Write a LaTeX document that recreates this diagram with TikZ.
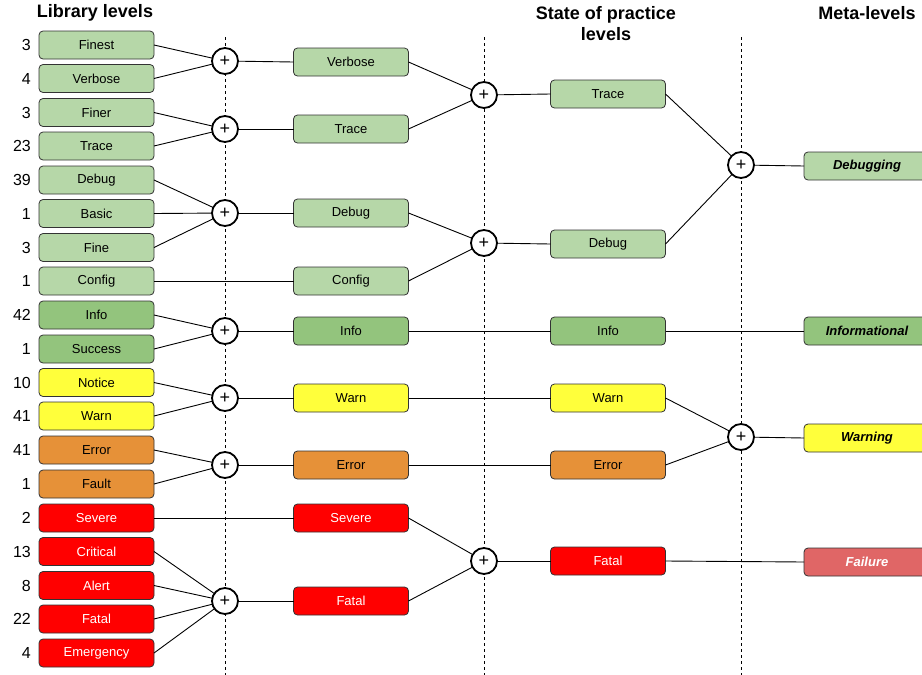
\documentclass[tikz,border=0pt]{standalone}
\usepackage{fontspec}
\setmainfont{Liberation Sans}
\usepackage{tikz,tkz-graph}
\definecolor{traceGreen}{HTML}{B6D7A8}
\definecolor{infoGreen}{HTML}{93C47D}
\definecolor{warnYellow}{HTML}{FFFF3B}
\definecolor{errorOrange}{HTML}{E69138}
\definecolor{fatalRed}{HTML}{FF0000}
\definecolor{failRed}{HTML}{E06666}
\tikzstyle{levelBox}=[shape = rectangle, rounded corners = 4pt, minimum width = 115pt, minimum height = 28pt, inner sep = 0pt, draw = black!80, line width = 0.8pt, font = \fontsize{13}{15}\selectfont]
\tikzstyle{plusNode}=[shape = circle, minimum size = 26pt, inner sep = 0pt, draw, fill = white, line width = 1.8pt, font = \fontsize{18}{20}\selectfont]

\begin{document}
\begin{tikzpicture}[x = 1pt, y = -1pt]
\tikzstyle{VertexStyle} = []
\tikzstyle{EdgeStyle} = [line width = 0.9pt]
\tikzstyle{LabelStyle} = []
\tikzstyle{traceLevel}=[levelBox, fill = traceGreen]
\tikzstyle{infoLevel}=[levelBox, fill = infoGreen]
\tikzstyle{warnLevel}=[levelBox, fill = warnYellow]
\tikzstyle{errorLevel}=[levelBox, fill = errorOrange]
\tikzstyle{fatalLevel}=[levelBox, fill = fatalRed, text = white]
\tikzstyle{metaLevel}=[minimum width = 126pt, font = \fontsize{13}{15}\selectfont\bfseries\itshape]
\tikzstyle{countLabel}=[anchor = east, inner sep = 0pt, font = \fontsize{16}{18}\selectfont]
\tikzstyle{headLabel}=[align = center, inner sep = 0pt, font = \fontsize{18}{21}\selectfont\bfseries]
\useasboundingbox (0,0) rectangle (922,675);
% column dividers
\coordinate (t1) at (225,37); \coordinate (u1) at (225,675);
\coordinate (t2) at (484,37); \coordinate (u2) at (484,675);
\coordinate (t3) at (741,37); \coordinate (u3) at (741,675);
\draw[dashed, dash pattern = on 3pt off 3pt, line width = 0.8pt] (t1) -- (u1) (t2) -- (u2) (t3) -- (u3);
% headings
\node[headLabel] (h1) at (95,13) {Library levels};
\node[headLabel] (h2) at (606,24) {State of practice\\levels};
\node[headLabel] (h3) at (867,13) {Meta-levels};
% library levels
\Vertex[style = traceLevel, x = 96.5, y = 45, L = {Finest}]{a1}
\Vertex[style = traceLevel, x = 96.5, y = 78.5, L = {Verbose}]{a2}
\Vertex[style = traceLevel, x = 96.5, y = 112.5, L = {Finer}]{a3}
\Vertex[style = traceLevel, x = 96.5, y = 146, L = {Trace}]{a4}
\Vertex[style = traceLevel, x = 96.5, y = 180, L = {Debug}]{a5}
\Vertex[style = traceLevel, x = 96.5, y = 213.5, L = {Basic}]{a6}
\Vertex[style = traceLevel, x = 96.5, y = 247.5, L = {Fine}]{a7}
\Vertex[style = traceLevel, x = 96.5, y = 281, L = {Config}]{a8}
\Vertex[style = infoLevel, x = 96.5, y = 315, L = {Info}]{a9}
\Vertex[style = infoLevel, x = 96.5, y = 349, L = {Success}]{a10}
\Vertex[style = warnLevel, x = 96.5, y = 382.5, L = {Notice}]{a11}
\Vertex[style = warnLevel, x = 96.5, y = 416, L = {Warn}]{a12}
\Vertex[style = errorLevel, x = 96.5, y = 450, L = {Error}]{a13}
\Vertex[style = errorLevel, x = 96.5, y = 484, L = {Fault}]{a14}
\Vertex[style = fatalLevel, x = 96.5, y = 518, L = {Severe}]{a15}
\Vertex[style = fatalLevel, x = 96.5, y = 551.5, L = {Critical}]{a16}
\Vertex[style = fatalLevel, x = 96.5, y = 585.5, L = {Alert}]{a17}
\Vertex[style = fatalLevel, x = 96.5, y = 619, L = {Fatal}]{a18}
\Vertex[style = fatalLevel, x = 96.5, y = 653, L = {Emergency}]{a19}
% counts
\node[countLabel] (n1) at (31,45) {3};
\node[countLabel] (n2) at (31,78.5) {4};
\node[countLabel] (n3) at (31,112.5) {3};
\node[countLabel] (n4) at (31,146) {23};
\node[countLabel] (n5) at (31,180) {39};
\node[countLabel] (n6) at (31,213.5) {1};
\node[countLabel] (n7) at (31,247.5) {3};
\node[countLabel] (n8) at (31,281) {1};
\node[countLabel] (n9) at (31,315) {42};
\node[countLabel] (n10) at (31,349) {1};
\node[countLabel] (n11) at (31,382.5) {10};
\node[countLabel] (n12) at (31,416) {41};
\node[countLabel] (n13) at (31,450) {41};
\node[countLabel] (n14) at (31,484) {1};
\node[countLabel] (n15) at (31,518) {2};
\node[countLabel] (n16) at (31,551.5) {13};
\node[countLabel] (n17) at (31,585.5) {8};
\node[countLabel] (n18) at (31,619) {22};
\node[countLabel] (n19) at (31,653) {4};
% state of practice levels
\Vertex[style = traceLevel, x = 351, y = 62, L = {Verbose}]{b1}
\Vertex[style = traceLevel, x = 351, y = 129, L = {Trace}]{b2}
\Vertex[style = traceLevel, x = 351, y = 213, L = {Debug}]{b3}
\Vertex[style = traceLevel, x = 351, y = 281, L = {Config}]{b4}
\Vertex[style = infoLevel, x = 351, y = 331, L = {Info}]{b5}
\Vertex[style = warnLevel, x = 351, y = 398, L = {Warn}]{b6}
\Vertex[style = errorLevel, x = 351, y = 465, L = {Error}]{b7}
\Vertex[style = fatalLevel, x = 351, y = 518, L = {Severe}]{b8}
\Vertex[style = fatalLevel, x = 351, y = 601, L = {Fatal}]{b9}
\Vertex[style = traceLevel, x = 608, y = 94, L = {Trace}]{c1}
\Vertex[style = traceLevel, x = 608, y = 244, L = {Debug}]{c2}
\Vertex[style = infoLevel, x = 608, y = 331, L = {Info}]{c3}
\Vertex[style = warnLevel, x = 608, y = 398, L = {Warn}]{c4}
\Vertex[style = errorLevel, x = 608, y = 465, L = {Error}]{c5}
\Vertex[style = fatalLevel, x = 608, y = 561, L = {Fatal}]{c6}
% meta-levels
\Vertex[style = {traceLevel, metaLevel}, x = 867, y = 166, L = {Debugging}]{d1}
\Vertex[style = {infoLevel, metaLevel}, x = 867, y = 331, L = {Informational}]{d2}
\Vertex[style = {warnLevel, metaLevel}, x = 867, y = 438, L = {Warning}]{d3}
\Vertex[style = {levelBox, metaLevel, fill = failRed, text = white}, x = 867, y = 562, L = {Failure}]{d4}
% merge points
\Vertex[style = plusNode, x = 225, y = 61, L = {+}]{p1}
\Vertex[style = plusNode, x = 225, y = 129, L = {+}]{p2}
\Vertex[style = plusNode, x = 225, y = 213, L = {+}]{p3}
\Vertex[style = plusNode, x = 225, y = 331, L = {+}]{p4}
\Vertex[style = plusNode, x = 225, y = 398, L = {+}]{p5}
\Vertex[style = plusNode, x = 225, y = 465, L = {+}]{p6}
\Vertex[style = plusNode, x = 225, y = 601, L = {+}]{p7}
\Vertex[style = plusNode, x = 484, y = 95, L = {+}]{q1}
\Vertex[style = plusNode, x = 484, y = 243, L = {+}]{q2}
\Vertex[style = plusNode, x = 484, y = 561, L = {+}]{q3}
\Vertex[style = plusNode, x = 741, y = 165, L = {+}]{r1}
\Vertex[style = plusNode, x = 741, y = 437, L = {+}]{r2}
% library -> state of practice
\Edge(a1.east)(p1)
\Edge(a2.east)(p1)
\Edge(p1)(b1.west)
\Edge(a3.east)(p2)
\Edge(a4.east)(p2)
\Edge(p2)(b2.west)
\Edge(a5.east)(p3)
\Edge(a6.east)(p3)
\Edge(a7.east)(p3)
\Edge(p3)(b3.west)
\Edge(a8.east)(b4.west)
\Edge(a9.east)(p4)
\Edge(a10.east)(p4)
\Edge(p4)(b5.west)
\Edge(a11.east)(p5)
\Edge(a12.east)(p5)
\Edge(p5)(b6.west)
\Edge(a13.east)(p6)
\Edge(a14.east)(p6)
\Edge(p6)(b7.west)
\Edge(a15.east)(b8.west)
\Edge(a16.east)(p7)
\Edge(a17.east)(p7)
\Edge(a18.east)(p7)
\Edge(a19.east)(p7)
\Edge(p7)(b9.west)
% state of practice -> meta
\Edge(b1.east)(q1)
\Edge(b2.east)(q1)
\Edge(q1)(c1.west)
\Edge(b3.east)(q2)
\Edge(b4.east)(q2)
\Edge(q2)(c2.west)
\Edge(b5.east)(c3.west)
\Edge(b6.east)(c4.west)
\Edge(b7.east)(c5.west)
\Edge(b8.east)(q3)
\Edge(b9.east)(q3)
\Edge(q3)(c6.west)
\Edge(c1.east)(r1)
\Edge(c2.east)(r1)
\Edge(r1)(d1.west)
\Edge(c3.east)(d2.west)
\Edge(c4.east)(r2)
\Edge(c5.east)(r2)
\Edge(r2)(d3.west)
\Edge(c6.east)(d4.west)
\end{tikzpicture}
\end{document}
